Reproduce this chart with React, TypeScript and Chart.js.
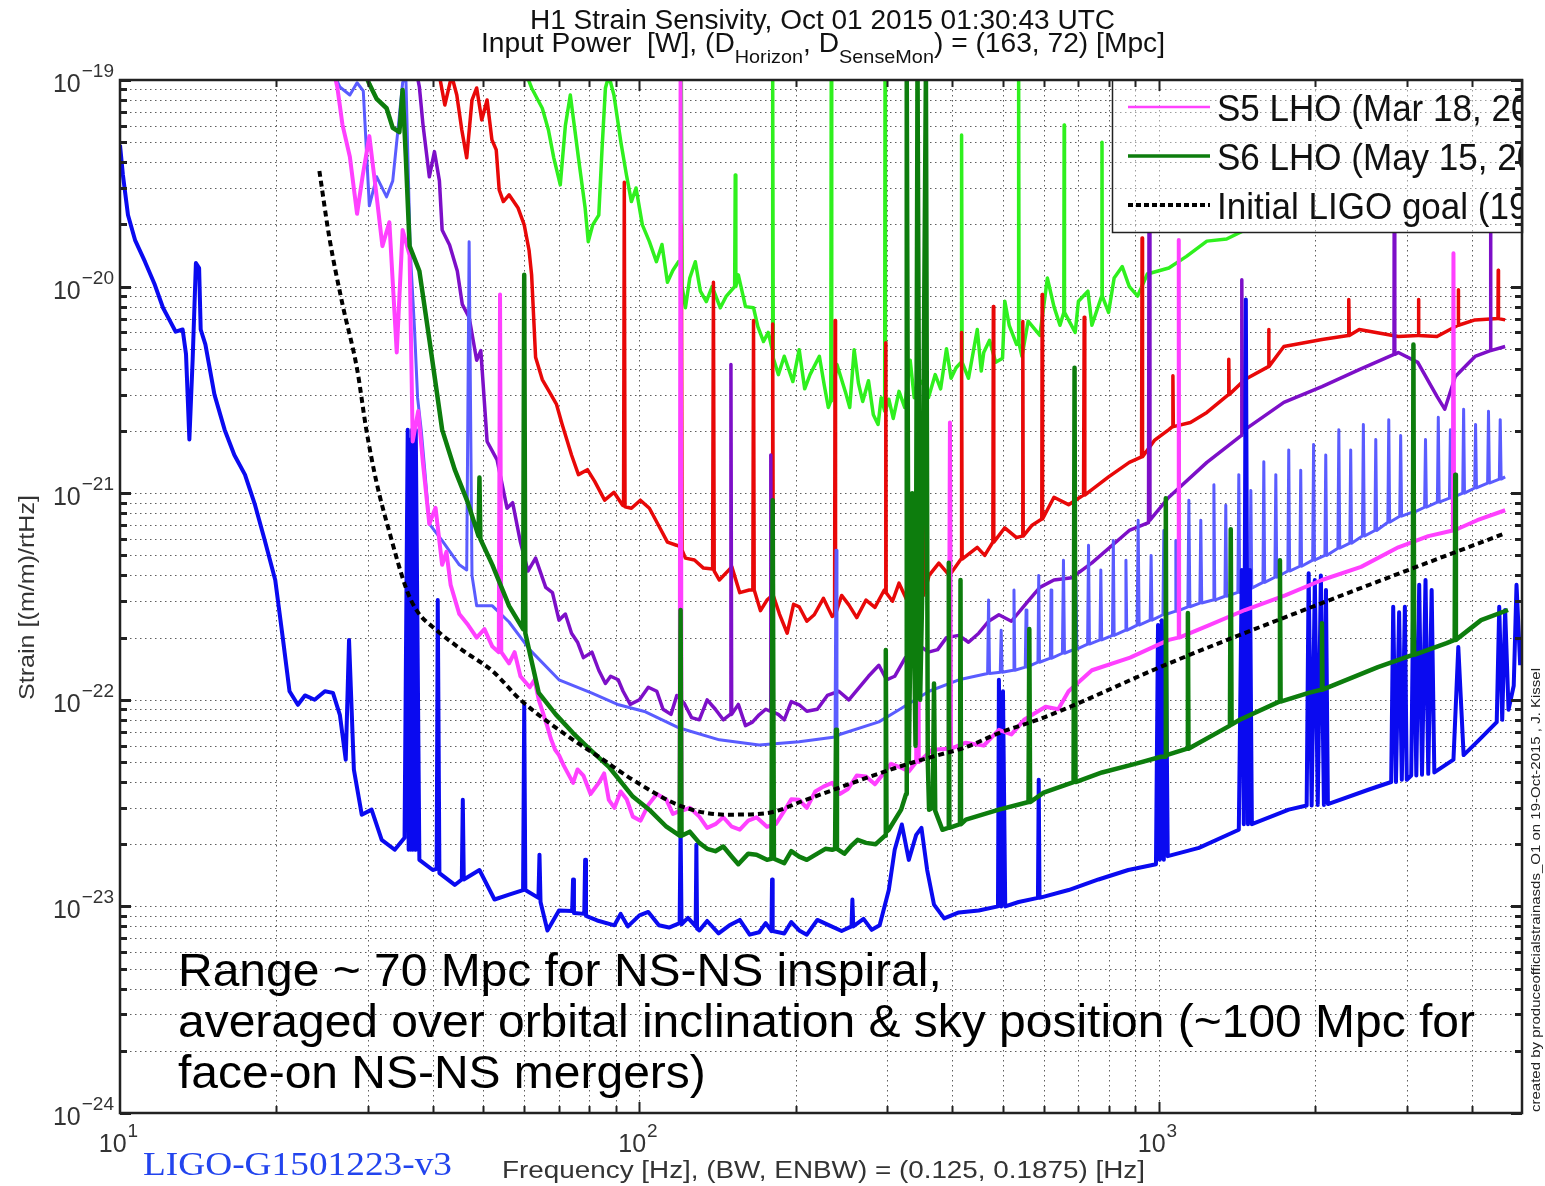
import React, { useEffect, useRef } from "react";
import { Chart, registerables } from "chart.js";

Chart.register(...registerables);

type Pt = [number, number];

// ---- Data: [frequency Hz, strain 1/rtHz] ----
const s1Lho: Pt[] = [
  [60.7, 1.05e-19], [62.0, 9.15e-20], [65.0, 7.3e-20], [66.8, 5.73e-20], [68.4, 4.2e-20], [70.4, 3.11e-20], [72.0, 6.0e-20],
  [73.6, 8.46e-20], [75.1, 5.73e-20], [76.3, 4.2e-20], [78.6, 2.4e-20], [79.7, 1.65e-20], [81.3, 1.99e-20], [83.5, 2.22e-20],
  [84.7, 4.59e-20], [86.0, 9.15e-20], [87.3, 1.05e-19], [89.3, 8.46e-20], [92.1, 5.0e-20], [94.4, 3.47e-20], [96.5, 2.58e-20],
  [98.5, 3.0e-20], [101.3, 1.99e-20], [104.5, 1.65e-20], [107.8, 1.32e-20], [110.5, 1.6e-20], [113.2, 1.05e-20], [116, 1.2e-20],
  [118.9, 1.32e-20], [120.0, 1.3e-20], [120.4, 1.05e-19], [120.8, 1.0e-20], [122.6, 7.9e-21], [125, 1.1e-20], [128.1, 1.32e-20],
  [131, 9.5e-21], [134.5, 8.46e-21], [138, 1.0e-20], [143.1, 7.9e-21], [147, 9.0e-21], [152.5, 1.0e-20], [152.9, 3.47e-20],
  [153.3, 1.0e-20], [155, 1.14e-20], [160, 8.0e-21], [165.8, 7.9e-21], [169, 6.4e-21], [173.3, 5.42e-21], [177, 6.0e-21],
  [180, 5.0e-21], [180.5, 1.05e-19], [181, 4.5e-21], [185.1, 3.75e-21], [190, 4.6e-21], [197.4, 3.47e-21], [203, 4.95e-21],
  [208, 3.2e-21], [213, 3.75e-21], [222, 4.6e-21], [227, 3.3e-21], [231, 2.6e-21], [233.5, 2.8e-21], [234, 1.05e-19],
  [234.5, 2.8e-21], [240, 4.2e-21], [249, 3.11e-21], [254, 2.6e-21], [259, 4.95e-21], [264, 3.4e-21], [269, 2.78e-21],
  [276, 3.5e-21], [282, 2.4e-21], [288, 2.15e-21], [292, 2.9e-21], [296.5, 2.5e-21], [297, 1.05e-19], [297.5, 2.5e-21],
  [302, 2.85e-21], [308, 2.3e-21], [316, 3.11e-21], [324, 2.6e-21], [332, 4.4e-21], [338, 2.9e-21], [342, 3.3e-21],
  [343, 1.05e-19], [344, 3.3e-21], [353, 3.55e-21], [360, 2.9e-21], [371, 3.75e-21], [380, 3.2e-21], [390, 5.0e-21],
  [398, 3.6e-21], [407, 4.05e-21], [416, 4.3e-21], [417, 5.42e-20], [418, 4.3e-21], [430, 3.6e-21], [447, 6.2e-21],
  [455, 3.9e-21], [460, 4.8e-21], [472, 5.5e-21], [485, 4.3e-21], [500, 4.5e-21], [505, 8.5e-21], [515, 6.5e-21],
  [532, 5.25e-21], [536, 5.3e-21], [537, 1.05e-19], [538, 5.3e-21], [545, 4.6e-21], [560, 6.8e-21], [590, 5.8e-21],
  [610, 1.1e-20], [628, 8.0e-21], [645, 6.5e-21], [656, 7.5e-21], [657, 6.05e-20], [658, 7.5e-21], [690, 6.0e-21],
  [700, 8.5e-21], [730, 9.5e-21], [743, 6.5e-21], [776, 9e-21], [777, 5.0e-20], [778, 9e-21], [800, 7.5e-21],
  [820, 1.1e-20], [850, 1.25e-20], [877, 1.0e-20], [910, 9e-21], [950, 1.15e-20], [1045, 1.23e-20], [1130, 1.4e-20],
  [1237, 1.66e-20], [1350, 1.7e-20], [1489, 1.92e-20], [1550, 2.1e-20],
];

const s2Lho: Pt[] = [
  [41.2, 1.05e-19], [42.2, 7.57e-20], [43.5, 1.05e-19], [44.5, 8.46e-20], [45.5, 5.73e-20], [46.5, 4.2e-20], [47.6, 8.0e-20],
  [48.6, 9.15e-20], [49.7, 6.4e-20], [50.9, 8.0e-20], [52.0, 5.13e-20], [53.0, 4.59e-20], [53.7, 2.94e-20], [54.7, 2.58e-20],
  [56.1, 2.78e-20], [58.4, 2.4e-20], [60.0, 1.99e-20], [61.3, 1.5e-20], [62.0, 1.14e-20], [63.1, 4.55e-21], [65.0, 3.55e-21],
  [67.0, 3.11e-21], [69.2, 2.7e-21], [71.0, 2.15e-21], [74.0, 1.53e-21], [76.3, 1.23e-21], [79.4, 1.3e-21], [82.0, 1.14e-21],
  [85.7, 9.25e-22], [89.3, 1.01e-21], [92.8, 8.75e-22], [93.2, 8.7e-22], [93.5, 3.2e-20], [93.8, 8.6e-22], [96.5, 8.46e-22],
  [100.4, 9.25e-22], [104.5, 8.46e-22], [108.8, 7.0e-22], [113.2, 5.8e-22], [117.8, 5.6e-22], [120.0, 5.5e-22],
  [120.4, 1.99e-20], [120.8, 5.3e-22], [122.6, 4.85e-22], [127.6, 4.75e-22], [132.8, 4.34e-22], [138.3, 4.3e-22],
  [138.8, 1.05e-20], [139.3, 4.2e-22], [142.5, 3.8e-22], [150.6, 4.4e-22], [156, 3.3e-22], [162.7, 3.4e-22], [165.3, 3.4e-22],
  [165.8, 6.85e-21], [166.3, 3.4e-22], [171, 2.7e-22], [176, 3.04e-22], [180, 3.2e-22], [180.5, 6.6e-21], [181, 3.2e-22],
  [186, 2.6e-22], [192.5, 2.1e-22], [198, 2.9e-22], [203, 2.82e-22], [210, 2.4e-22], [217, 2.58e-22], [226, 3.1e-22],
  [235, 2.53e-22], [237.5, 2.6e-22], [238, 6.85e-21], [238.5, 2.6e-22], [245, 3.2e-22], [253, 2.88e-22], [262, 2.5e-22],
  [273, 3.04e-22], [284, 2.8e-22], [296, 3.4e-22], [297.5, 3.3e-22], [298, 5.35e-21], [298.5, 3.3e-22], [307, 3.0e-22],
  [316, 3.67e-22], [330, 2.9e-22], [341, 3.04e-22], [352, 3.2e-22], [353, 2.6e-21], [354, 3.3e-22], [361, 4.0e-22],
  [377, 4.59e-22], [395, 4.0e-22], [416, 4.8e-22], [417, 6.0e-21], [418, 4.8e-22], [447, 5.47e-22], [462, 5.0e-22],
  [479, 5.8e-22], [480, 8.0e-21], [481, 5.8e-22], [505, 6.8e-22], [532, 6.1e-22], [546, 6.2e-22], [547, 6.77e-21],
  [548, 6.2e-22], [570, 7.0e-22], [595, 7.5e-22], [596, 9.15e-21], [597, 7.5e-22], [628, 9.56e-22], [670, 8.8e-22],
  [716, 9.8e-22], [718, 7.1e-21], [720, 9.8e-22], [743, 1.04e-21], [800, 1.2e-21], [877, 1.41e-21], [926, 1.5e-21],
  [928, 1.72e-20], [930, 1.5e-21], [980, 1.8e-21], [1045, 2.03e-21], [1062, 2.1e-21], [1064, 3.7e-21], [1066, 2.1e-21],
  [1150, 2.2e-21], [1237, 2.46e-21], [1361, 3.0e-21], [1363, 4.45e-21], [1365, 3.0e-21], [1464, 3.55e-21],
  [1625, 4.1e-21], [1627, 6.2e-21], [1629, 4.1e-21], [1740, 5.13e-21], [2060, 5.55e-21], [2315, 5.8e-21],
  [2320, 8.65e-21], [2325, 5.8e-21], [2430, 6.2e-21], [2890, 5.73e-21], [3155, 5.8e-21], [3160, 8.65e-21],
  [3165, 5.8e-21], [3430, 5.73e-21], [3765, 6.5e-21], [3770, 9.65e-21], [3775, 6.5e-21], [4060, 6.9e-21],
  [4495, 7e-21], [4500, 1.2e-20], [4505, 7e-21], [4640, 6.9e-21],
];

const s3Lho: Pt[] = [
  [37.2, 1.1e-19], [37.7, 9.25e-20], [38.3, 6.1e-20], [39.4, 3.4e-20], [40.3, 4.5e-20], [41.2, 3.25e-20], [41.7, 1.88e-20],
  [43.1, 1.59e-20], [44.6, 1.19e-20], [45.6, 8.2e-21], [47.0, 7.1e-21], [48.6, 4.4e-21], [49.5, 4.9e-21], [50.9, 1.78e-21],
  [53.2, 1.45e-21], [55.6, 8.46e-22], [57.0, 9.0e-22], [59.0, 5.8e-22], [61, 4.2e-22], [63.1, 4.85e-22], [66, 3.5e-22],
  [68, 3.3e-22], [70.0, 2.43e-22], [72, 2.6e-22], [74, 2.1e-22], [76, 1.9e-22], [78, 1.6e-22], [81, 1.7e-22],
  [83.5, 1.39e-22], [86, 1.2e-22], [88, 1.3e-22], [91, 1.25e-22], [93, 1.1e-22], [96, 9.5e-23], [100, 1.0e-22],
  [104, 1.15e-22], [108, 1.1e-22], [111, 9e-23], [115, 8.5e-23], [118, 1.05e-22], [122, 9.6e-23], [126, 8.2e-23],
  [130.4, 8.0e-23], [135, 1.0e-22], [140, 9.0e-23], [145, 8.0e-23], [149.5, 8.5e-23], [150, 4.2e-21], [150.5, 8.5e-23],
  [155, 9.5e-23], [160, 7.5e-23], [165, 7.8e-23], [170, 8.46e-23], [175, 9.0e-23], [178.5, 8.8e-23], [179, 1.53e-21],
  [179.5, 8.8e-23], [185, 8.5e-23], [190, 8.0e-23], [196, 9.8e-23], [203, 9.46e-23], [210, 8.8e-23], [220, 9.0e-23],
  [230, 1.05e-22], [242, 1.1e-22], [253, 1.0e-22], [265, 1.15e-22], [276, 1.3e-22], [289, 1.47e-22], [299, 1.25e-22],
  [310, 1.3e-22], [325, 1.6e-22], [342, 1.7e-22], [343, 1.78e-20], [344, 1.7e-22], [345, 1.84e-22], [360, 1.7e-22],
  [375, 1.75e-22], [390, 2.0e-22], [412, 2.05e-22], [430, 1.9e-22], [450, 2.1e-22], [470, 2.4e-22], [492, 2.58e-22],
  [520, 2.4e-22], [560, 3.0e-22], [590, 3.5e-22], [628, 3.8e-22], [680, 3.9e-22], [743, 4.6e-22], [877, 6.6e-22],
  [955, 7.2e-22], [958, 1.1e-19], [961, 7.4e-22], [1045, 9.56e-22], [1237, 1.41e-21], [1440, 1.9e-21], [1444, 1.08e-20],
  [1448, 1.95e-21], [1464, 2.03e-21], [1740, 2.75e-21], [2060, 3.28e-21], [2430, 3.96e-21], [2835, 4.7e-21],
  [2840, 1.1e-19], [2845, 4.7e-21], [2890, 4.8e-21], [3150, 4.3e-21], [3430, 2.94e-21], [3550, 2.55e-21],
  [3720, 3.67e-21], [4060, 4.59e-21], [4345, 4.9e-21], [4350, 1.1e-19], [4355, 4.9e-21], [4640, 5.13e-21],
];

const s4Lho: Pt[] = [
  [25.9, 1.05e-19], [26.5, 9.25e-20], [27.7, 8.46e-20], [28.6, 9.7e-20], [29.4, 8.85e-20], [30.2, 2.46e-20], [31.2, 3.4e-20],
  [32.6, 2.72e-20], [33.5, 3.25e-20], [34.5, 6.7e-20], [35.0, 9.7e-20], [35.5, 1.05e-19], [36.2, 1.5e-20], [36.9, 6.2e-21],
  [37.4, 2.9e-21], [38.0, 2.03e-21], [38.6, 1.3e-21], [39.4, 7.1e-22], [41.7, 5.9e-22], [45.0, 4.5e-22], [46.5, 4.25e-22],
  [47.0, 1.65e-20], [47.6, 4.0e-22], [48.6, 2.85e-22], [52.1, 2.85e-22], [56.1, 2.38e-22], [61.6, 1.74e-22], [70.0, 1.25e-22],
  [80.8, 1.08e-22], [91.2, 9.46e-23], [102.7, 8.75e-23], [119.4, 7.3e-23], [142.5, 6.4e-23], [170, 6.05e-23], [203, 6.27e-23],
  [238, 6.6e-23], [239, 5.3e-22], [240, 6.6e-23], [242, 6.77e-23], [289, 7.82e-23], [316, 8.95e-23], [361, 1.1e-22],
  [412, 1.25e-22],
  [468, 1.34e-22], [470, 3.04e-22], [472, 1.34e-22],
  [495, 1.36e-22], [497, 2.17e-22], [499, 1.36e-22],
  [524, 1.39e-22], [526, 3.4e-22], [528, 1.39e-22],
  [553, 1.44e-22], [555, 2.72e-22], [557, 1.44e-22],
  [585, 1.52e-22], [587, 4.0e-22], [589, 1.52e-22],
  [618, 1.59e-22], [620, 3.4e-22], [622, 1.59e-22],
  [652, 1.68e-22], [655, 4.74e-22], [658, 1.68e-22],
  [689, 1.76e-22], [692, 3.8e-22], [695, 1.76e-22],
  [729, 1.86e-22], [732, 5.6e-22], [735, 1.86e-22],
  [770, 1.95e-22], [773, 4.25e-22], [776, 1.95e-22],
  [814, 2.05e-22], [817, 5.9e-22], [820, 2.05e-22],
  [861, 2.17e-22], [864, 4.74e-22], [867, 2.17e-22],
  [908, 2.3e-22], [912, 7.4e-22], [916, 2.3e-22],
  [962, 2.43e-22], [966, 5.0e-22], [970, 2.43e-22],
  [1018, 2.58e-22], [1022, 6.6e-22], [1026, 2.58e-22],
  [1074, 2.68e-22], [1078, 5.9e-22], [1082, 2.68e-22],
  [1137, 2.82e-22], [1142, 9.25e-22], [1147, 2.82e-22],
  [1199, 2.94e-22], [1204, 7.4e-22], [1209, 2.94e-22],
  [1271, 3.04e-22], [1276, 1.1e-21], [1281, 3.04e-22],
  [1340, 3.17e-22], [1345, 8.75e-22], [1350, 3.17e-22],
  [1419, 3.31e-22], [1425, 1.23e-21], [1431, 3.31e-22],
  [1497, 3.47e-22], [1503, 1.03e-21], [1509, 3.47e-22],
  [1586, 3.7e-22], [1592, 1.42e-21], [1598, 3.7e-22],
  [1672, 3.92e-22], [1679, 1.23e-21], [1686, 3.92e-22],
  [1771, 4.2e-22], [1778, 1.62e-21], [1785, 4.2e-22],
  [1868, 4.43e-22], [1875, 1.29e-21], [1882, 4.43e-22],
  [1977, 4.74e-22], [1985, 1.72e-21], [1993, 4.74e-22],
  [2087, 5.0e-22], [2095, 1.53e-21], [2103, 5.0e-22],
  [2211, 5.42e-22], [2220, 2.03e-21], [2229, 5.42e-22],
  [2331, 5.73e-22], [2340, 1.62e-21], [2349, 5.73e-22],
  [2465, 6.2e-22], [2475, 2.15e-21], [2485, 6.2e-22],
  [2605, 6.6e-22], [2615, 1.82e-21], [2625, 6.6e-22],
  [2759, 7.24e-22], [2770, 2.27e-21], [2781, 7.24e-22],
  [2908, 7.74e-22], [2920, 1.9e-21], [2932, 7.74e-22],
  [3078, 8.1e-22], [3090, 2.4e-21], [3102, 8.1e-22],
  [3247, 8.55e-22], [3260, 1.82e-21], [3273, 8.55e-22],
  [3436, 9.05e-22], [3450, 2.33e-21], [3464, 9.05e-22],
  [3625, 9.46e-22], [3640, 2.03e-21], [3655, 9.46e-22],
  [3845, 1.0e-21], [3860, 2.55e-21], [3875, 1.0e-21],
  [4054, 1.06e-21], [4070, 2.15e-21], [4086, 1.06e-21],
  [4293, 1.12e-21], [4310, 2.49e-21], [4327, 1.12e-21],
  [4522, 1.17e-21], [4540, 2.27e-21], [4558, 1.17e-21],
  [4640, 1.2e-21],
];

const s5Lho: Pt[] = [
  [25.8, 1.1e-19], [26.2, 9.25e-20], [26.8, 6.1e-20], [27.7, 4.25e-20], [28.6, 2.25e-20], [29.3, 3.4e-20], [30.2, 5.35e-20],
  [31.2, 2.72e-20], [32.0, 1.57e-20], [33.0, 2.05e-20], [34.1, 4.8e-21], [35.0, 1.88e-20], [36.1, 1.42e-20], [36.6, 1.78e-21],
  [37.5, 2.5e-21], [38.3, 1.4e-21], [39.4, 7.1e-22], [40.5, 8.5e-22], [41.7, 4.5e-22], [42.5, 5.2e-22], [43.3, 3.6e-22],
  [45.0, 2.6e-22], [46.8, 2.3e-22], [48.6, 2.0e-22], [50.3, 2.2e-22], [52.1, 1.81e-22], [53.6, 1.7e-22], [53.9, 9.15e-21],
  [54.2, 1.7e-22], [56.1, 1.5e-22], [57.5, 1.7e-22], [59.0, 1.3e-22], [61.5, 1.15e-22], [62.8, 1.25e-22], [64.0, 1.0e-22],
  [66.4, 7.5e-23], [67.5, 6.5e-23], [68.8, 5.73e-23], [70, 5.4e-23], [71.5, 4.8e-23], [74.5, 3.96e-23], [76, 4.6e-23],
  [78, 4.3e-23], [80.5, 3.5e-23], [83.5, 3.96e-23], [85.5, 4.4e-23], [87.3, 3.28e-23], [89.5, 3.0e-23], [92, 3.6e-23],
  [94.5, 3.3e-23], [97.1, 2.72e-23], [100.5, 2.6e-23], [104, 3.1e-23], [108, 3.5e-23], [112.7, 3.28e-23], [116, 2.8e-23],
  [119.5, 2.9e-23], [120, 1.1e-19], [120.5, 2.9e-23], [125, 3.0e-23], [130.4, 2.72e-23], [135, 2.4e-23], [140, 2.5e-23],
  [145, 2.7e-23], [150.6, 2.43e-23], [156, 2.35e-23], [162, 2.6e-23], [168, 2.7e-23], [176, 2.43e-23], [183, 2.5e-23],
  [190, 2.9e-23], [196, 3.3e-23], [203, 3.28e-23], [210, 3.0e-23], [218, 3.6e-23], [226, 3.8e-23], [235, 3.96e-23],
  [243, 3.5e-23], [252, 3.7e-23], [262, 4.3e-23], [273, 4.25e-23], [284, 3.9e-23], [295, 4.4e-23], [305, 4.9e-23],
  [316, 4.74e-23], [330, 4.5e-23], [341, 5.0e-23], [343, 1.68e-20], [345, 5.0e-23], [366, 5.73e-23], [394, 5.8e-23],
  [396, 2.2e-21], [398, 5.8e-23], [425, 6.2e-23], [460, 6.0e-23], [492, 7.16e-23], [520, 6.8e-23], [550, 8.0e-23],
  [605, 9.25e-23], [640, 9.0e-23], [670, 1.1e-22], [743, 1.39e-22], [880, 1.6e-22], [1045, 1.95e-22], [1090, 2.0e-22],
  [1092, 1.68e-20], [1094, 2.0e-22], [1250, 2.3e-22], [1464, 2.72e-22], [1750, 3.2e-22], [2060, 3.8e-22],
  [2450, 4.4e-22], [2890, 5.47e-22], [3300, 6.2e-22], [3680, 6.6e-22], [3690, 1.45e-20], [3700, 6.6e-22],
  [4100, 7.4e-22], [4640, 8.27e-22],
];

const s6Lho: Pt[] = [
  [29.5, 1.1e-19], [30.2, 9.56e-20], [31.2, 8.1e-20], [32.6, 7.3e-20], [33.5, 5.86e-20], [34.5, 5.6e-20], [35.0, 8.95e-20],
  [35.5, 4.25e-20], [36.1, 1.57e-20], [37.7, 1.19e-20], [39.4, 5.55e-21], [41.7, 2.03e-21], [44.1, 1.3e-21],
  [46.7, 9.05e-22], [49.0, 6.2e-22], [49.2, 1.19e-21], [49.4, 6.0e-22], [52.1, 4.5e-22], [56.1, 2.85e-22], [59.7, 2.2e-22],
  [60.0, 1.14e-20], [60.3, 2.1e-22], [64.0, 1.08e-22], [69, 8.5e-23], [74.5, 6.9e-23], [80, 5.8e-23], [87.3, 4.74e-23],
  [97.1, 3.4e-23], [105, 2.9e-23], [112.7, 2.43e-23], [119.5, 2.2e-23], [120, 2.72e-22], [120.5, 2.2e-23], [125, 2.3e-23],
  [130.4, 2.03e-23], [135, 1.9e-23], [140, 1.85e-23], [145, 1.95e-23], [150.6, 1.74e-23], [155, 1.6e-23], [162, 1.8e-23],
  [168, 1.78e-23], [176, 1.68e-23], [179.5, 1.7e-23], [180.5, 9.25e-22], [181.5, 1.7e-23], [190, 1.62e-23],
  [196, 1.85e-23], [203, 1.74e-23], [210, 1.68e-23], [220, 1.8e-23], [228, 1.9e-23], [235, 1.88e-23], [238, 1.9e-23],
  [239, 7.16e-23], [240, 1.9e-23], [248, 1.8e-23], [255, 1.95e-23], [263, 2.1e-23], [273, 2.03e-23], [285, 2.0e-23],
  [297, 2.2e-23], [298, 1.74e-22], [299, 2.3e-23], [302, 2.35e-23], [319, 2.94e-23], [326, 3.5e-23], [327, 1.1e-19],
  [330, 5e-23], [335, 1.0e-21], [340, 6e-23], [343, 1.1e-19], [347, 1e-22], [350, 3e-22], [356, 1.1e-19], [359, 5e-23],
  [361, 2.94e-23], [367, 3.0e-23], [369, 1.2e-22], [371, 2.9e-23], [383, 2.35e-23], [393, 2.4e-23], [394, 4.6e-22],
  [395, 2.4e-23], [414, 2.5e-23], [415, 3.8e-22], [416, 2.5e-23], [425, 2.63e-23], [492, 2.94e-23], [561, 3.2e-23],
  [563, 2.2e-22], [565, 3.2e-23], [600, 3.55e-23], [685, 4.0e-23], [688, 4.05e-21], [691, 4.0e-23], [777, 4.45e-23],
  [900, 4.9e-23], [1009, 5.3e-23], [1028, 5.3e-23], [1031, 9.46e-22], [1034, 5.4e-23], [1134, 5.8e-23], [1137, 2.63e-22],
  [1140, 5.8e-23], [1370, 7.5e-23], [1375, 6.7e-22], [1380, 7.6e-23], [1431, 8.0e-23], [1705, 9.8e-23], [1710, 4.74e-22],
  [1715, 9.8e-23], [1942, 1.08e-22], [2055, 1.12e-22], [2060, 2.35e-22], [2065, 1.12e-22], [2640, 1.44e-22],
  [3080, 1.65e-22], [3090, 5.25e-21], [3100, 1.65e-22], [3580, 1.88e-22], [3710, 1.95e-22], [3720, 1.23e-21],
  [3730, 1.95e-22], [4170, 2.43e-22], [4700, 2.72e-22],
];

const o1H1: Pt[] = [
  [10.0, 4.85e-20], [10.13, 3.47e-20], [10.36, 2.22e-20], [10.69, 1.68e-20], [11.17, 1.32e-20], [11.67, 1.02e-20],
  [12.1, 7.9e-21], [12.5, 6.77e-21], [12.8, 6.05e-21], [13.2, 6.2e-21], [13.4, 4.7e-21], [13.6, 1.82e-21], [13.8, 4.45e-21],
  [14.0, 1.3e-20], [14.2, 1.23e-20], [14.3, 6.2e-21], [14.6, 5.25e-21], [15.2, 3.0e-21], [15.9, 2.03e-21], [16.6, 1.53e-21],
  [17.4, 1.23e-21], [18.2, 8.75e-22], [19.0, 5.9e-22], [19.9, 3.8e-22], [20.6, 1.95e-22], [21.2, 1.1e-22], [22.0, 9.46e-23],
  [22.7, 1.05e-22], [23.7, 1.0e-22], [24.8, 1.1e-22], [25.7, 1.08e-22], [26.5, 8.46e-23], [27.2, 5.13e-23],
  [27.6, 1.95e-22], [28.2, 4.59e-23], [29.2, 2.78e-23], [30.5, 2.94e-23], [31.9, 2.1e-23], [33.8, 1.88e-23],
  [35.3, 2.15e-23], [35.8, 2.03e-21], [35.95, 1.88e-23], [36.1, 1.82e-21], [36.3, 1.88e-23], [36.5, 2.03e-21],
  [36.6, 1.88e-23], [36.8, 1.82e-21], [37.0, 1.88e-23], [37.1, 2.03e-21], [37.7, 1.68e-23], [40.0, 1.5e-23],
  [40.7, 1.52e-23], [40.9, 3.04e-22], [41.2, 1.45e-23], [44.1, 1.27e-23], [45.5, 1.35e-23], [45.7, 3.28e-23],
  [45.9, 1.35e-23], [49.2, 1.5e-23], [52.6, 1.08e-23], [56.1, 1.14e-23], [59.7, 1.2e-23], [60.0, 9.46e-23],
  [60.3, 1.2e-23], [63.9, 1.1e-23], [64.2, 1.78e-23], [64.5, 1.05e-23], [66.5, 7.65e-24], [70.0, 9.56e-24],
  [74.2, 9.5e-24], [74.5, 1.35e-23], [74.8, 9.3e-24], [78.3, 9.2e-24], [78.6, 1.68e-23], [78.9, 9.0e-24],
  [82.9, 8.55e-24], [89.5, 8.1e-24], [92, 9.2e-24], [95, 8.0e-24], [100, 9.05e-24], [104, 9.4e-24], [109, 8.1e-24],
  [114, 7.9e-24], [119.5, 8.3e-24], [120, 2.46e-23], [120.5, 8.2e-24], [124, 8.8e-24], [128.3, 8.0e-24],
  [128.7, 1.99e-23], [129.1, 7.8e-24], [130.4, 7.65e-24], [135, 8.5e-24], [142, 7.4e-24], [149, 8.1e-24],
  [156, 8.6e-24], [163, 7.3e-24], [170, 7.5e-24], [175, 8.3e-24], [179.5, 7.6e-24], [180, 1.35e-23], [180.5, 7.6e-24],
  [190, 7.4e-24], [196, 8.4e-24], [203, 7.65e-24], [210, 7.3e-24], [220, 8.6e-24], [232, 8.1e-24], [245, 7.6e-24],
  [256, 8.0e-24], [257, 1.08e-23], [258, 8.0e-24], [270, 8.7e-24], [280, 7.7e-24], [290, 8.1e-24], [302, 1.2e-23],
  [310, 1.88e-23], [320, 2.49e-23], [330, 1.68e-23], [341, 2.22e-23], [349, 2.4e-23], [358, 1.5e-23], [369, 1.02e-23],
  [386, 8.75e-24], [412, 9.35e-24], [450, 9.56e-24], [490, 1.0e-23], [492, 1.25e-22], [497, 1.0e-23], [501, 1.1e-22],
  [506, 1.0e-23], [537, 1.05e-23], [585, 1.1e-23], [587, 4.1e-23], [589, 1.1e-23], [670, 1.2e-23], [765, 1.35e-23],
  [873, 1.5e-23], [987, 1.6e-23], [996, 2.3e-22], [1004, 1.68e-23], [1013, 2.43e-22], [1022, 1.68e-23],
  [1031, 2.17e-22], [1040, 1.75e-23], [1194, 1.92e-23], [1425, 2.35e-23], [1444, 4.25e-22], [1457, 2.5e-23],
  [1470, 8.65e-21], [1484, 2.5e-23], [1497, 4.25e-22], [1510, 2.5e-23], [1778, 2.94e-23], [1925, 3.08e-23],
  [1942, 4.1e-22], [1968, 3.08e-23], [1996, 3.8e-22], [2022, 3.1e-23], [2050, 4.0e-22], [2078, 3.1e-23],
  [2097, 3.4e-22], [2115, 3.13e-23], [2530, 3.67e-23], [2800, 4.0e-23], [2825, 2.82e-22], [2860, 4.0e-23],
  [2900, 2.65e-22], [2935, 4.1e-23], [2975, 2.82e-22], [3000, 4.1e-23], [3060, 4.3e-23], [3090, 3.8e-22],
  [3130, 4.3e-23], [3170, 3.6e-22], [3210, 4.34e-23], [3260, 3.8e-22], [3300, 4.38e-23], [3350, 3.4e-22],
  [3390, 4.45e-23], [3690, 5.13e-23], [3770, 1.8e-22], [3860, 5.4e-23], [4135, 6.4e-23], [4470, 7.8e-23],
  [4520, 2.82e-22], [4580, 8.0e-23], [4640, 2.72e-22], [4710, 8.95e-23], [4820, 1.17e-22], [4880, 3.6e-22],
  [4960, 1.47e-22],
];

const srdGoal: Pt[] = [
  [24.2, 3.63e-20], [25.3, 1.72e-20], [26.8, 8.25e-21], [28.6, 4.0e-21], [29.8, 2.03e-21], [31.2, 1.12e-21], [33.0, 6.5e-22],
  [35.6, 3.43e-22], [37.2, 2.72e-22], [40.7, 2.17e-22], [45.6, 1.74e-22], [52.1, 1.38e-22], [59.0, 1.0e-22], [74.5, 6.4e-23],
  [83.5, 5.3e-23], [97.1, 4.1e-23], [121, 3.04e-23], [147, 2.78e-23], [176, 2.83e-23], [209, 3.28e-23], [257, 3.96e-23],
  [316, 4.74e-23], [366, 5.3e-23], [425, 5.9e-23], [492, 6.9e-23], [605, 8.27e-23], [1045, 1.5e-22], [2060, 2.94e-22],
  [4640, 6.4e-22],
];

// ---- Axes / labels ----
const xMin = 10;
const xMax = 5000;
const yMin = 1e-24;
const yMax = 1e-19;
const xMajorExps = [1, 2, 3];
const yMajorExps = [-24, -23, -22, -21, -20, -19];
const minorSteps = [2, 3, 4, 5, 6, 7, 8, 9];

const titleLine1 = "H1 Strain Sensivity, Oct 01 2015 01:30:43 UTC";
const titleLine2Parts: [string, boolean][] = [
  ["Input Power  [W], (D", false],
  ["Horizon", true],
  [", D", false],
  ["SenseMon", true],
  [") = (163, 72) [Mpc]", false],
];
const yAxisLabel = "Strain [(m/m)/rtHz]";
const xAxisLabel = "Frequency [Hz], (BW, ENBW) = (0.125, 0.1875) [Hz]";
const docId = "LIGO-G1501223-v3";
const creditText = "created by produceofficialstrainasds_O1 on 19-Oct-2015 , J. Kissel";
const noteLines = [
  "Range ~ 70 Mpc for NS-NS inspiral,",
  "averaged over orbital inclination & sky position (~100 Mpc for",
  "face-on NS-NS mergers)",
];
const legendEntries = [
  { label: "S5 LHO (Mar 18, 2007)", color: "#ff40ff", width: 2.5, dash: [] as number[] },
  { label: "S6 LHO (May 15, 2010)", color: "#0d7d0d", width: 3.5, dash: [] as number[] },
  { label: "Initial LIGO goal (1995)", color: "#000000", width: 4, dash: [5, 3] },
];

const SANS = '"Liberation Sans", Arial, Helvetica, sans-serif';
const SERIF = '"Liberation Serif", "Times New Roman", serif';

const xGrid: number[] = [];
xMajorExps.forEach((e) => {
  const b = Math.pow(10, e);
  xGrid.push(b);
  minorSteps.forEach((m) => {
    if (m * b <= xMax) xGrid.push(m * b);
  });
});
const yGrid: number[] = [];
yMajorExps.forEach((e) => {
  const b = Math.pow(10, e);
  yGrid.push(b);
  if (e < -19) minorSteps.forEach((m) => yGrid.push(m * b));
});

function fitText(ctx: CanvasRenderingContext2D, text: string, x: number, y: number, width: number) {
  const w = ctx.measureText(text).width;
  ctx.save();
  ctx.translate(x, y);
  ctx.scale(width / w, 1);
  ctx.textAlign = "left";
  ctx.fillText(text, 0, 0);
  ctx.restore();
}

function drawGridLines(chart: any, alpha: number) {
  const { ctx, chartArea: a, scales } = chart;
  const xs = scales.x;
  const ys = scales.y;
  ctx.save();
  ctx.lineWidth = 1;
  ctx.setLineDash([1.5, 3.5]);
  ctx.strokeStyle = `rgba(40,40,40,${alpha})`;
  xGrid.forEach((v) => {
    if (v <= xMin || v >= xMax) return;
    const px = Math.round(xs.getPixelForValue(v)) + 0.5;
    ctx.beginPath();
    ctx.moveTo(px, a.top);
    ctx.lineTo(px, a.bottom);
    ctx.stroke();
  });
  yGrid.forEach((v) => {
    if (v <= yMin * 1.0001 || v >= yMax * 0.9999) return;
    const py = Math.round(ys.getPixelForValue(v)) + 0.5;
    ctx.beginPath();
    ctx.moveTo(a.left, py);
    ctx.lineTo(a.right, py);
    ctx.stroke();
  });
  ctx.restore();
}

const gridPlugin = {
  id: "matlabGrid",
  beforeDatasetsDraw(chart: any) {
    drawGridLines(chart, 0.75);
  },
};

const decorPlugin = {
  id: "matlabDecor",
  afterDatasetsDraw(chart: any) {
    const { ctx, chartArea: a, scales } = chart;
    const xs = scales.x;
    const ys = scales.y;

    // Legend box (top right, clipped text)
    const lx0 = 1112, ly0 = a.top, lx1 = a.right, ly1 = 232;
    ctx.save();
    ctx.fillStyle = "#ffffff";
    ctx.fillRect(lx0, ly0, lx1 - lx0, ly1 - ly0);
    ctx.beginPath();
    ctx.rect(lx0, ly0, lx1 - lx0, ly1 - ly0);
    ctx.clip();
    drawGridLines(chart, 0.45);
    legendEntries.forEach((e, i) => {
      const yy = 107 + i * 49;
      ctx.save();
      ctx.strokeStyle = e.color;
      ctx.lineWidth = e.width;
      ctx.setLineDash(e.dash);
      ctx.beginPath();
      ctx.moveTo(1128, yy);
      ctx.lineTo(1210, yy);
      ctx.stroke();
      ctx.restore();
      ctx.fillStyle = "#111";
      ctx.font = `34px ${SANS}`;
      ctx.textAlign = "left";
      ctx.textBaseline = "alphabetic";
      ctx.save();
      ctx.translate(1217, yy + 14);
      ctx.scale(1.03, 1.08);
      ctx.fillText(e.label, 0, 0);
      ctx.restore();
    });
    ctx.restore();
    ctx.save();
    ctx.strokeStyle = "#222";
    ctx.lineWidth = 1.5;
    ctx.strokeRect(lx0 + 0.5, ly0, lx1 - lx0, ly1 - ly0 + 0.5);
    ctx.restore();

    // Frame and inner ticks
    ctx.save();
    ctx.strokeStyle = "#222";
    ctx.lineWidth = 2;
    xGrid.forEach((v) => {
      if (v <= xMin || v >= xMax) return;
      const px = Math.round(xs.getPixelForValue(v)) + 0.5;
      const len = xMajorExps.some((e) => Math.abs(Math.pow(10, e) - v) < 1e-9) ? 11 : 7;
      ctx.beginPath();
      ctx.moveTo(px, a.bottom);
      ctx.lineTo(px, a.bottom - len);
      ctx.moveTo(px, a.top);
      ctx.lineTo(px, a.top + len);
      ctx.stroke();
    });
    ctx.lineWidth = 3;
    yGrid.forEach((v) => {
      const py = Math.round(ys.getPixelForValue(v)) + 0.5;
      const isMajor = yMajorExps.some((e) => Math.abs(Math.pow(10, e) / v - 1) < 1e-6);
      const len = isMajor ? 11 : 7;
      ctx.beginPath();
      ctx.moveTo(a.left, py);
      ctx.lineTo(a.left + len, py);
      ctx.moveTo(a.right, py);
      ctx.lineTo(a.right - len, py);
      ctx.stroke();
    });
    ctx.lineWidth = 2.5;
    ctx.strokeRect(a.left, a.top, a.right - a.left, a.bottom - a.top);
    ctx.restore();
  },
  afterDraw(chart: any) {
    const { ctx, scales } = chart;
    const xs = scales.x;
    const ys = scales.y;
    ctx.save();
    ctx.textBaseline = "alphabetic";

    // Y tick labels 10^n
    yMajorExps.forEach((e) => {
      const py = ys.getPixelForValue(Math.pow(10, e));
      const sup = "\u2212" + String(Math.abs(e));
      ctx.fillStyle = "#333";
      ctx.font = `19px ${SANS}`;
      const sw = ctx.measureText(sup).width;
      ctx.textAlign = "left";
      ctx.fillText(sup, 114 - sw, py - 3);
      ctx.font = `25px ${SANS}`;
      ctx.textAlign = "right";
      ctx.fillText("10", 113 - sw, py + 12);
    });

    // X tick labels 10^n
    xMajorExps.forEach((e) => {
      const px = xs.getPixelForValue(Math.pow(10, e));
      ctx.fillStyle = "#333";
      ctx.font = `25px ${SANS}`;
      const bw = ctx.measureText("10").width;
      ctx.font = `19px ${SANS}`;
      const sw = ctx.measureText(String(e)).width;
      const x0 = px - (bw + sw) / 2 - 2;
      ctx.textAlign = "left";
      ctx.font = `25px ${SANS}`;
      ctx.fillText("10", x0, 1152);
      ctx.font = `19px ${SANS}`;
      ctx.fillText(String(e), x0 + bw + 1, 1137);
    });

    // Title
    ctx.fillStyle = "#111";
    ctx.font = `27px ${SANS}`;
    fitText(ctx, titleLine1, 530, 29, 585);
    let total = 0;
    titleLine2Parts.forEach(([t, sub]) => {
      ctx.font = sub ? `19px ${SANS}` : `27px ${SANS}`;
      total += ctx.measureText(t).width;
    });
    const sc = 684 / total;
    ctx.save();
    ctx.translate(481, 0);
    ctx.scale(sc, 1);
    let cx = 0;
    titleLine2Parts.forEach(([t, sub]) => {
      ctx.font = sub ? `19px ${SANS}` : `27px ${SANS}`;
      ctx.textAlign = "left";
      ctx.fillText(t, cx, sub ? 63 : 52);
      cx += ctx.measureText(t).width;
    });
    ctx.restore();

    // Y axis label
    ctx.save();
    ctx.translate(34, 700);
    ctx.rotate(-Math.PI / 2);
    ctx.fillStyle = "#333";
    ctx.font = `22px ${SANS}`;
    fitText(ctx, yAxisLabel, 0, 0, 205);
    ctx.restore();

    // X axis label
    ctx.fillStyle = "#333";
    ctx.font = `23px ${SANS}`;
    fitText(ctx, xAxisLabel, 502, 1178, 643);

    // Document id
    ctx.fillStyle = "#2244ee";
    ctx.font = `34px ${SERIF}`;
    fitText(ctx, docId, 143, 1175, 309);

    // Credit (rotated)
    ctx.save();
    ctx.translate(1540, 1112);
    ctx.rotate(-Math.PI / 2);
    ctx.fillStyle = "#222";
    ctx.font = `13px ${SANS}`;
    fitText(ctx, creditText, 0, 0, 444);
    ctx.restore();

    // Annotation
    ctx.fillStyle = "#000";
    ctx.font = `46px ${SANS}`;
    const wRef = ctx.measureText(noteLines[1]).width;
    const k = 1297 / wRef;
    noteLines.forEach((t, i) => {
      const w = ctx.measureText(t).width;
      fitText(ctx, t, 178, 986 + i * 51, w * k);
    });
    ctx.restore();
  },
};

const seriesDefs = [
  { label: "Initial LIGO goal (1995)", pts: srdGoal, color: "#000000", width: 4, dash: [6, 4], order: 0, smooth: true },
  { label: "S6 LHO (May 15, 2010)", pts: s6Lho, color: "#0d7d0d", width: 4.5, dash: [], order: 1, smooth: false },
  { label: "S5 LHO (Mar 18, 2007)", pts: s5Lho, color: "#ff40ff", width: 4, dash: [], order: 2, smooth: false },
  { label: "O1 H1 (Oct 01, 2015)", pts: o1H1, color: "#0a0af0", width: 4, dash: [], order: 3, smooth: false },
  { label: "S4 LHO", pts: s4Lho, color: "#5a5cff", width: 3, dash: [], order: 4, smooth: false },
  { label: "S3 LHO", pts: s3Lho, color: "#7d0fc8", width: 3.5, dash: [], order: 5, smooth: false },
  { label: "S2 LHO", pts: s2Lho, color: "#e80808", width: 3.5, dash: [], order: 6, smooth: false },
  { label: "S1 LHO", pts: s1Lho, color: "#2ff01e", width: 3.5, dash: [], order: 7, smooth: false },
];

export default function App() {
  const ref = useRef<HTMLCanvasElement | null>(null);
  useEffect(() => {
    document.body.style.margin = "0";
    document.documentElement.style.overflow = "hidden";
    const canvas = ref.current;
    if (!canvas) return;
    const chart = new Chart(canvas, {
      type: "line",
      data: {
        datasets: seriesDefs.map((s) => ({
          label: s.label,
          data: s.pts.map(([f, h]) => ({ x: f, y: h })),
          borderColor: s.color,
          backgroundColor: s.color,
          borderWidth: s.width,
          borderDash: s.dash,
          pointRadius: 0,
          fill: false,
          order: s.order,
          tension: 0,
          cubicInterpolationMode: s.smooth ? "monotone" : "default",
          borderJoinStyle: "round",
        })),
      } as any,
      options: {
        responsive: false,
        animation: false,
        events: [],
        layout: { padding: { left: 120, top: 80, right: 23, bottom: 73 } },
        plugins: {
          legend: { display: false },
          tooltip: { enabled: false },
          title: { display: false },
        },
        scales: {
          x: { type: "logarithmic", min: xMin, max: xMax, display: false },
          y: { type: "logarithmic", min: yMin, max: yMax, display: false },
        },
      } as any,
      plugins: [gridPlugin, decorPlugin],
    });
    return () => chart.destroy();
  }, []);
  return (
    <div style={{ position: "absolute", left: 0, top: 0, width: 1545, height: 1186, background: "#fff" }}>
      <canvas ref={ref} width={1545} height={1186} style={{ display: "block" }} />
    </div>
  );
}
